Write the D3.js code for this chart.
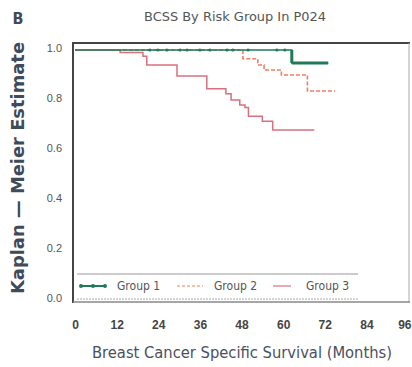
<!DOCTYPE html>
<html>
<head>
<meta charset="utf-8">
<script src="https://cdn.jsdelivr.net/npm/d3@7"></script>
<style>
  body { margin: 0; background: #fff; }
  svg { font-family: "Liberation Sans Narrow", "DejaVu Sans Condensed", Arial, sans-serif; }
</style>
</head>
<body>
<div id="chart"></div>
<script>
const monthTicks = [0, 12, 24, 36, 48, 60, 72, 84, 96];
const estTicks = [0.0, 0.2, 0.4, 0.6, 0.8, 1.0];
const groupNames = ['Group 1', 'Group 2', 'Group 3'];

// step points [month, estimate]
const group1 = [[0, 1], [62.5, 0.948], [73, 0.948]];
const group1Censor = [21.6, 23.9, 26.5, 30.3, 32.3, 36, 38.9, 43.8, 45.5, 49.9, 58.2, 60.5];
const group2 = [[0, 1], [48.4, 0.965], [52.7, 0.94], [54.5, 0.92], [59.5, 0.9], [67, 0.836], [75, 0.836]];
const group3 = [[0, 1], [13, 0.99], [19.6, 0.975], [20.7, 0.94], [29.4, 0.896], [38, 0.845],
  [43.5, 0.825], [45, 0.8], [47.5, 0.78], [49, 0.77], [50, 0.735], [54, 0.715], [57, 0.68], [69, 0.68]];

const colors = ['#1f7a58', '#ef7f66', '#d8707f'];

const W = 412, H = 367;
const svg = d3.select('#chart').append('svg').attr('width', W).attr('height', H);

const x = d3.scaleLinear().domain([0, 96]).range([75, 408]);
const y = d3.scaleLinear().domain([0, 1]).range([300, 50]);

// frame
svg.append('line').attr('x1', 73).attr('x2', 410).attr('y1', 43).attr('y2', 43)
  .attr('stroke', '#444').attr('stroke-width', 2);
svg.append('line').attr('x1', 73).attr('x2', 73).attr('y1', 42).attr('y2', 303)
  .attr('stroke', '#444').attr('stroke-width', 2);
svg.append('line').attr('x1', 409).attr('x2', 409).attr('y1', 43).attr('y2', 302)
  .attr('stroke', '#aaa').attr('stroke-width', 1);
svg.append('line').attr('x1', 73).attr('x2', 410).attr('y1', 302).attr('y2', 302)
  .attr('stroke', '#888').attr('stroke-width', 1.5);

// axes (labels only)
const xAxis = svg.append('g').attr('transform', 'translate(0,329)')
  .call(d3.axisBottom(x).tickValues(monthTicks).tickSize(0).tickPadding(0));
xAxis.select('.domain').remove();
xAxis.selectAll('text').attr('fill', '#444').style('font-size', '12px').style('font-weight', 'bold')
  .attr('dy', 0);
xAxis.selectAll('.tick').filter(d => d === 96).select('text').attr('text-anchor', 'end').attr('x', 3);

const yAxis = svg.append('g').attr('transform', 'translate(62,0)')
  .call(d3.axisLeft(y).tickValues(estTicks).tickFormat(d3.format('.1f')).tickSize(0).tickPadding(0));
yAxis.select('.domain').remove();
yAxis.selectAll('text').attr('fill', '#555').style('font-size', '11px').attr('dy', '0');
yAxis.selectAll('.tick').attr('transform', d => `translate(0,${y(d) + 2})`);

// titles
svg.append('text').attr('x', 235).attr('y', 21).attr('text-anchor', 'middle')
  .attr('fill', '#555').style('font-size', '12px').attr('textLength', 182)
  .attr('lengthAdjust', 'spacingAndGlyphs').text('BCSS By Risk Group In P024');
svg.append('text').attr('x', 242).attr('y', 358).attr('text-anchor', 'middle')
  .attr('fill', '#4a5060').style('font-size', '16px').attr('textLength', 300)
  .attr('lengthAdjust', 'spacingAndGlyphs').text('Breast Cancer Specific Survival (Months)');
svg.append('text').attr('transform', 'translate(24,168) rotate(-90)').attr('text-anchor', 'middle')
  .attr('fill', '#3f4a5a').style('font-size', '17px').style('font-weight', 'bold')
  .attr('textLength', 252).attr('lengthAdjust', 'spacingAndGlyphs').text('Kaplan \u2014 Meier Estimate');
svg.append('text').attr('x', 18).attr('y', 24).attr('text-anchor', 'middle')
  .attr('fill', '#3f4a5a').style('font-size', '16px').style('font-weight', 'bold').text('B');

// curves
const line = d3.line().x(d => x(d[0])).y(d => y(d[1])).curve(d3.curveStepAfter);
svg.append('path').datum(group3).attr('d', line).attr('fill', 'none')
  .attr('stroke', colors[2]).attr('stroke-width', 1.5);
svg.append('path').datum(group2).attr('d', line).attr('fill', 'none')
  .attr('stroke', colors[1]).attr('stroke-width', 1.6).attr('stroke-dasharray', '4,2');
svg.append('path').datum(group1).attr('d', line).attr('fill', 'none')
  .attr('stroke', colors[0]).attr('stroke-width', 1.4);
svg.append('path').datum(group1.slice(1)).attr('d', line).attr('fill', 'none')
  .attr('stroke', colors[0]).attr('stroke-width', 3);
svg.append('line').attr('x1', x(group1[1][0])).attr('x2', x(group1[1][0]))
  .attr('y1', y(1)).attr('y2', y(group1[1][1])).attr('stroke', colors[0]).attr('stroke-width', 3);
svg.selectAll('.cens1').data(group1Censor).enter().append('circle')
  .attr('cx', d => x(d)).attr('cy', y(1)).attr('r', 1.6).attr('fill', colors[0]);

// legend
svg.append('line').attr('x1', 77).attr('x2', 358).attr('y1', 274).attr('y2', 274)
  .attr('stroke', '#999').attr('stroke-width', 1.2);
svg.append('line').attr('x1', 77).attr('x2', 358).attr('y1', 299).attr('y2', 299)
  .attr('stroke', '#aaa').attr('stroke-width', 1).attr('stroke-dasharray', '2,1');
const legX = [80, 177, 273];
const leg = svg.selectAll('.leg').data(groupNames).enter().append('g')
  .attr('transform', (d, i) => `translate(${legX[i]},286)`);
leg.append('line').attr('x1', 0).attr('x2', (d, i) => i === 2 ? 18 : 26).attr('y1', 0).attr('y2', 0)
  .attr('stroke', (d, i) => colors[i]).attr('stroke-width', (d, i) => i === 0 ? 2 : 1.2)
  .attr('stroke-dasharray', (d, i) => i === 1 ? '3,2' : null);
leg.filter((d, i) => i === 0).selectAll('circle').data([1, 13, 25]).enter().append('circle')
  .attr('cx', d => d).attr('cy', 0).attr('r', 2).attr('fill', colors[0]);
leg.append('text').attr('x', (d, i) => i === 2 ? 33 : 37).attr('y', 4)
  .attr('fill', '#555').style('font-size', '12px').text(d => d);
</script>
</body>
</html>
